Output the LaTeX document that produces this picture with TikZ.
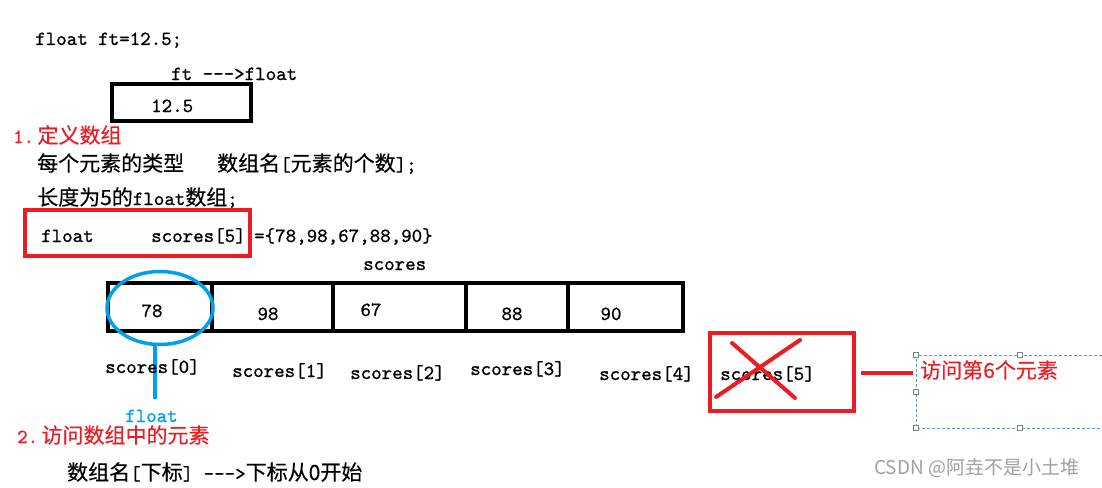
\documentclass[tikz,border=0pt]{standalone}
\usepackage{fontspec}
\usetikzlibrary{shapes.geometric}
\setmonofont{lmmono10-regular}[Extension=.otf, FakeBold=0.9]
\newfontfamily\cjkf{Noto Sans CJK SC}[Scale=1.05, FakeBold=0.3]
\newfontfamily\wmf{Noto Sans CJK SC}
\newcommand\zhtxt[1]{{\cjkf #1}}
\definecolor{myred}{RGB}{237,28,36}
\definecolor{myblue}{RGB}{0,160,233}
\definecolor{dashblue}{RGB}{91,155,213}
\definecolor{wmgray}{RGB}{160,160,160}
\begin{document}
\begin{tikzpicture}[x=1pt,y=-1pt,
  txt/.style={anchor=base west, inner sep=0pt, font=\ttfamily\fontsize{20}{24}\selectfont},
  val/.style={anchor=base, inner sep=0pt, font=\ttfamily\fontsize{20}{24}\selectfont},
  blackbox/.style={draw=black, line width=4pt, inner sep=0pt},
  redbox/.style={draw=myred, line width=4pt, inner sep=0pt},
  cell/.style={draw=black, line width=3.5pt, inner sep=0pt, minimum height=48pt},
  handle/.style={draw=gray, fill=white, line width=0.6pt, minimum size=5pt, inner sep=0pt}]
\useasboundingbox[fill=white] (0,0) rectangle (1102,487);

% top part
\node[txt] (decl) at (35,45) {float ft=12.5;};
\node[txt] (ftl) at (171,80) {ft -{}-{}->float};
\node[blackbox, minimum width=139pt, minimum height=37pt] (ftbox) at (181.5,102.5) {};
\node[txt] (ftv) at (151,112) {12.5};

% section 1
\node[txt, text=myred] (s1) at (13,143) {1.\,\zhtxt{定义数组}};
\node[txt] (l1a) at (37,171) {\zhtxt{每个元素的类型}};
\node[txt] (l1b) at (217,171) {\zhtxt{数组名}[\zhtxt{元素的个数}];};
\node[txt] (l2) at (37,205) {\zhtxt{长度为5的}float\zhtxt{数组};};
\node[redbox, minimum width=225pt, minimum height=46pt] (rb1) at (137.5,233) {};
\node[txt] (ty) at (41,242) {float};
\node[txt] (nm) at (151,242) {scores[5]};
\node[txt] (init) at (254,242) {=\{78,98,67,88,90\}};
\node[txt] (arrname) at (363,270) {scores};

% array cells
\node[cell, minimum width=104pt] (c0) at (160,307) {};
\node[cell, minimum width=121pt] (c1) at (272.5,307) {};
\node[cell, minimum width=133pt] (c2) at (399.5,307) {};
\node[cell, minimum width=102pt] (c3) at (517,307) {};
\node[cell, minimum width=115pt] (c4) at (625.5,307) {};
\node[val] (v0) at (152,317) {78};
\node[val] (v1) at (268,320) {98};
\node[val] (v2) at (371,316) {67};
\node[val] (v3) at (512,320) {88};
\node[val] (v4) at (611,320) {90};

% ellipse and its label
\node[ellipse, draw=myblue, line width=3.5pt, minimum width=106pt, minimum height=73pt, inner sep=0pt] (ell) at (160,308) {};
\node[txt, text=myblue] (flt) at (125,422) {float};
\coordinate (lt) at (155,399);
\draw[myblue, line width=4pt] (lt |- ell.south) -- (lt);

% index labels
\node[txt] (i0) at (105,373) {scores[0]};
\node[txt] (i1) at (232,377) {scores[1]};
\node[txt] (i2) at (350,379) {scores[2]};
\node[txt] (i3) at (470,375) {scores[3]};
\node[txt] (i4) at (599,380) {scores[4]};
\node[txt] (i5) at (720,380) {scores[5]};

% out of range
\node[redbox, minimum width=144pt, minimum height=78pt] (box5) at (782,372) {};
\coordinate (xa) at (732,343);
\coordinate (xb) at (795,398);
\coordinate (xc) at (800,340);
\coordinate (xd) at (716,397);
\draw[myred, line width=4pt, line cap=round] (xa) -- (xb);
\draw[myred, line width=4pt, line cap=round] (xc) -- (xd);

% dashed text frame with handles
\draw[dashblue, line width=1pt, dash pattern=on 3pt off 2pt] (1102,355) -- (916,355) -- (916,428) -- (1102,428);
\node[handle] (h1) at (916,355) {};
\node[handle] (h2) at (1020,355) {};
\node[handle] (h3) at (916,392) {};
\node[handle] (h4) at (916,428) {};
\node[handle] (h5) at (1020,428) {};
\node[txt, text=myred] (lbl) at (920,378) {\zhtxt{访问第6个元素}};
\coordinate (le) at (913,373);
\draw[myred, line width=3.5pt, shorten <=5pt] (box5.east |- le) -- (le);

% section 2
\node[txt, text=myred] (s2) at (17,443) {2.\,\zhtxt{访问数组中的元素}};
\node[txt] (acc) at (67,480) {\zhtxt{数组名}[\zhtxt{下标}] -{}-{}->\zhtxt{下标从0开始}};

% watermark
\node[anchor=base west, inner sep=0pt, text=wmgray, font=\wmf\fontsize{19}{22}\selectfont] (wm) at (874,474) {CSDN @阿垚不是小土堆};
\end{tikzpicture}
\end{document}
